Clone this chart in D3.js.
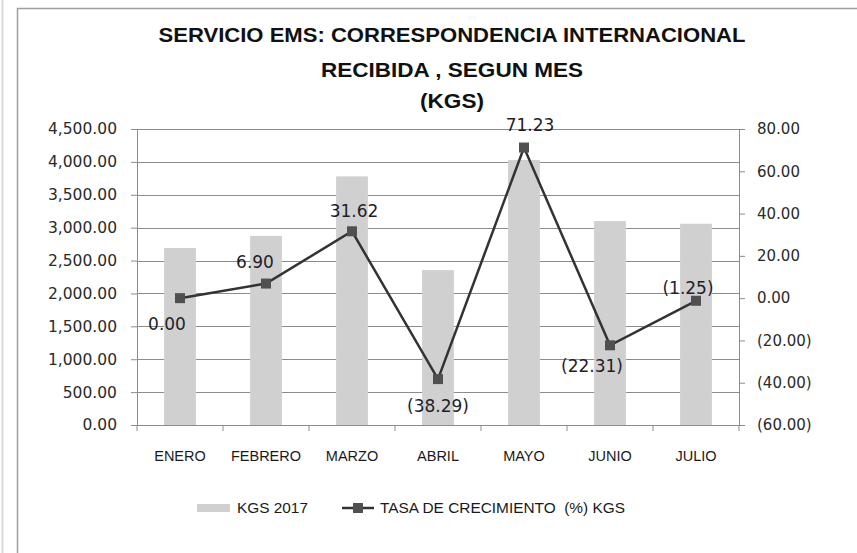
<!DOCTYPE html>
<html>
<head>
<meta charset="utf-8">
<script src="https://cdn.jsdelivr.net/npm/d3@7/dist/d3.min.js"></script>
<style>
  body { margin: 0; background: #fff; }
  svg { display: block; }
</style>
</head>
<body>
<div id="chart"></div>
<script>
var months = ["ENERO", "FEBRERO", "MARZO", "ABRIL", "MAYO", "JUNIO", "JULIO"];
var kgs2017 = [2690, 2875, 3780, 2355, 4030, 3100, 3060];
var tasa = [0.00, 6.90, 31.62, -38.29, 71.23, -22.31, -1.25];
var leftTicks = [0, 500, 1000, 1500, 2000, 2500, 3000, 3500, 4000, 4500];
var rightTicks = [-60, -40, -20, 0, 20, 40, 60, 80];
var titleLines = ["SERVICIO EMS: CORRESPONDENCIA INTERNACIONAL", "RECIBIDA , SEGUN MES", "(KGS)"];

// label placement (dx, dy from the marker), style only
var labelShift = [[-13, 32], [-11, -16], [2, -14], [0, 33], [6, -17], [-18, 27], [-8, -7]];

var W = 857, H = 553;
var plot = { left: 137, right: 739, top: 129, bottom: 425 };

var svg = d3.select("#chart").append("svg")
  .attr("width", W)
  .attr("height", H);

// frame
svg.append("rect").attr("x", 0).attr("y", 0).attr("width", W).attr("height", H).attr("fill", "#fff");
svg.append("line").attr("x1", 2.5).attr("x2", 2.5).attr("y1", 0).attr("y2", H)
  .attr("stroke", "#d8d8d8").attr("stroke-width", 2);
svg.append("path").attr("d", "M17.5," + H + "V8.5H" + W)
  .attr("fill", "none").attr("stroke", "#a0a0a0").attr("stroke-width", 1.5);

// title
svg.selectAll(".title")
  .data(titleLines)
  .enter()
  .append("text")
  .attr("class", "title")
  .attr("x", 452)
  .attr("y", function(d, i) { return [42, 77, 108][i]; })
  .attr("text-anchor", "middle")
  .attr("font-family", "Liberation Sans, Arial, sans-serif")
  .attr("font-weight", "bold")
  .attr("font-size", 21)
  .attr("fill", "#111")
  .attr("textLength", function(d, i) { return [587, 262, 64][i]; })
  .attr("lengthAdjust", "spacingAndGlyphs")
  .text(function(d) { return d; });

var x = d3.scaleBand()
  .domain(months)
  .range([plot.left, plot.right])
  .paddingInner(0.63)
  .paddingOuter(0.315);

var y = d3.scaleLinear()
  .domain([0, 4500])
  .range([plot.bottom, plot.top]);

var y2 = d3.scaleLinear()
  .domain([-60, 80])
  .range([plot.bottom, plot.top]);

// gridlines
svg.append("g")
  .selectAll("line")
  .data(leftTicks.slice(1))
  .enter()
  .append("line")
  .attr("x1", plot.left)
  .attr("x2", plot.right)
  .attr("y1", function(d) { return Math.round(y(d)) + 0.5; })
  .attr("y2", function(d) { return Math.round(y(d)) + 0.5; })
  .attr("stroke", "#8c8c8c")
  .attr("stroke-width", 1);

// bars
svg.append("g")
  .selectAll("rect")
  .data(kgs2017)
  .enter()
  .append("rect")
  .attr("x", function(d, i) { return x(months[i]); })
  .attr("y", function(d) { return y(d); })
  .attr("width", x.bandwidth())
  .attr("height", function(d) { return y(0) - y(d); })
  .attr("fill", "#d0d0d0");

// left axis
var axisL = svg.append("g")
  .attr("transform", "translate(" + plot.left + ",0)")
  .call(d3.axisLeft(y).tickValues(leftTicks).tickSize(6).tickPadding(14)
    .tickFormat(d3.format(",.2f")));

// right axis
var axisR = svg.append("g")
  .attr("transform", "translate(" + plot.right + ",0)")
  .call(d3.axisRight(y2).tickValues(rightTicks).tickSize(6).tickPadding(12)
    .tickFormat(function(d) {
      var s = d3.format(".2f")(Math.abs(d));
      return d < 0 ? "(" + s + ")" : s;
    }));

// x axis
var axisX = svg.append("g")
  .attr("transform", "translate(0," + plot.bottom + ")")
  .call(d3.axisBottom(x).tickSize(0).tickPadding(26));

svg.append("g")
  .selectAll("line")
  .data(d3.range(months.length + 1))
  .enter()
  .append("line")
  .attr("x1", function(d) { return plot.left + d * x.step(); })
  .attr("x2", function(d) { return plot.left + d * x.step(); })
  .attr("y1", plot.bottom)
  .attr("y2", plot.bottom + 6)
  .attr("stroke", "#8c8c8c");

[axisL, axisR, axisX].forEach(function(a) {
  a.select(".domain").attr("stroke", "#8c8c8c");
  a.selectAll(".tick line").attr("stroke", "#8c8c8c");
});
axisL.selectAll("text").attr("font-family", "DejaVu Sans, sans-serif").attr("font-size", 15.5).attr("fill", "#2a2a2a");
axisR.selectAll("text").attr("font-family", "DejaVu Sans, sans-serif").attr("font-size", 15).attr("fill", "#2a2a2a");
axisX.selectAll("text").attr("font-family", "Liberation Sans, Arial, sans-serif").attr("font-size", 14.5).attr("fill", "#1a1a1a");
axisX.select(".domain").attr("d", "M" + plot.left + ",0.5H" + plot.right);

// growth line
var line = d3.line()
  .x(function(d, i) { return x(months[i]) + x.bandwidth() / 2; })
  .y(function(d) { return y2(d); });

svg.append("path")
  .datum(tasa)
  .attr("d", line)
  .attr("fill", "none")
  .attr("stroke", "#333333")
  .attr("stroke-width", 2.5);

svg.append("g")
  .selectAll("rect")
  .data(tasa)
  .enter()
  .append("rect")
  .attr("x", function(d, i) { return x(months[i]) + x.bandwidth() / 2 - 5; })
  .attr("y", function(d) { return y2(d) - 5; })
  .attr("width", 10)
  .attr("height", 10)
  .attr("fill", "#505050");

// data labels
svg.append("g")
  .selectAll("text")
  .data(tasa)
  .enter()
  .append("text")
  .attr("x", function(d, i) { return x(months[i]) + x.bandwidth() / 2 + labelShift[i][0]; })
  .attr("y", function(d, i) { return y2(d) + labelShift[i][1]; })
  .attr("text-anchor", "middle")
  .attr("font-family", "DejaVu Sans, sans-serif")
  .attr("font-size", 17)
  .attr("fill", "#1e1e2a")
  .text(function(d) {
    var s = d3.format(".2f")(Math.abs(d));
    return d < 0 ? "(" + s + ")" : s;
  });

// legend
var lg = svg.append("g").attr("transform", "translate(0,508)");
lg.append("rect").attr("x", 197).attr("y", -4).attr("width", 33).attr("height", 8).attr("fill", "#d0d0d0");
lg.append("text").attr("x", 237).attr("y", 5)
  .attr("font-family", "Liberation Sans, Arial, sans-serif").attr("font-size", 14.5).attr("fill", "#1a1a1a")
  .attr("textLength", 71).attr("lengthAdjust", "spacingAndGlyphs")
  .text("KGS 2017");
lg.append("line").attr("x1", 342).attr("x2", 374).attr("y1", 0).attr("y2", 0)
  .attr("stroke", "#333333").attr("stroke-width", 2.5);
lg.append("rect").attr("x", 353).attr("y", -5).attr("width", 10).attr("height", 10).attr("fill", "#505050");
lg.append("text").attr("x", 380).attr("y", 5)
  .attr("font-family", "Liberation Sans, Arial, sans-serif").attr("font-size", 14.5).attr("fill", "#1a1a1a")
  .attr("xml:space", "preserve")
  .attr("textLength", 245).attr("lengthAdjust", "spacingAndGlyphs")
  .text("TASA DE CRECIMIENTO  (%) KGS");
</script>
</body>
</html>
